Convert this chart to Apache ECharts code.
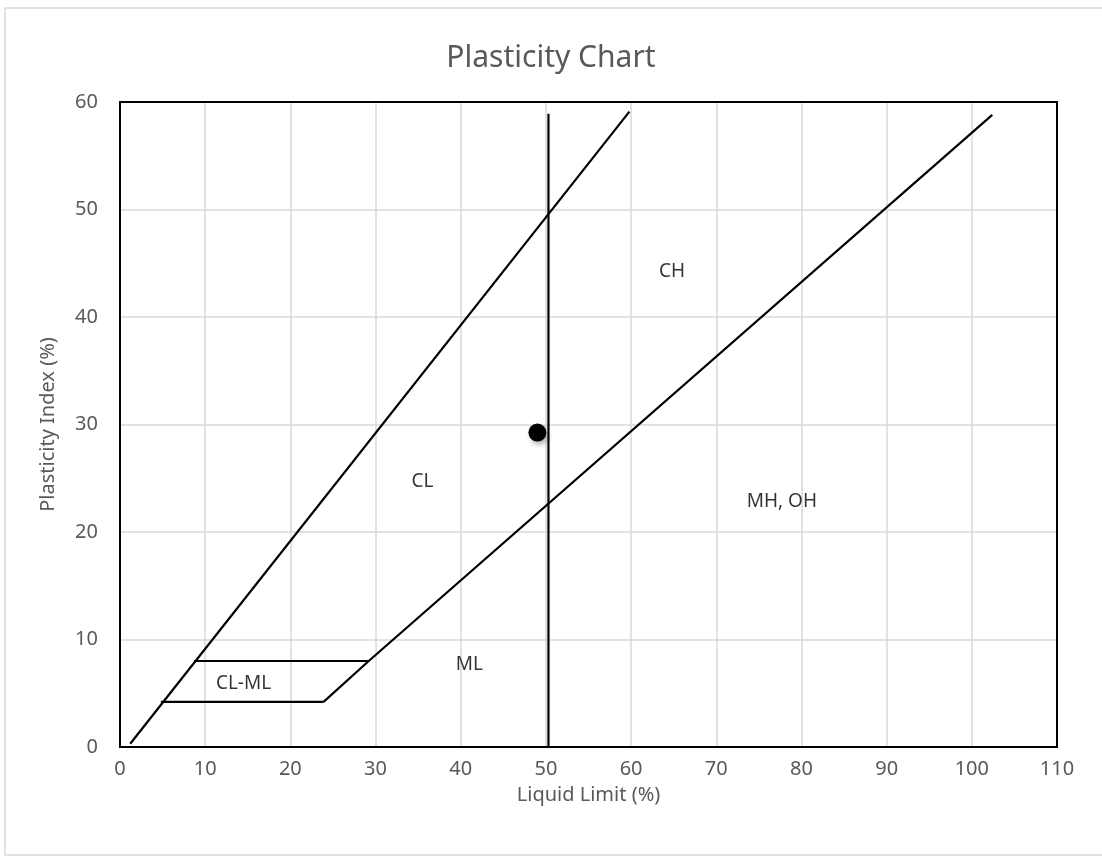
<!DOCTYPE html>
<html>
<head>
<meta charset="utf-8">
<script src="https://cdn.jsdelivr.net/npm/echarts@6/dist/echarts.min.js"></script>
<style>
  html, body { margin: 0; padding: 0; background: #ffffff; }
  #chart { width: 1102px; height: 856px; }
</style>
</head>
<body>
<div id="chart"></div>
<script>
// ---- Data ----
var xTicks = [0, 10, 20, 30, 40, 50, 60, 70, 80, 90, 100, 110];
var yTicks = [0, 10, 20, 30, 40, 50, 60];
var uLine = [[1.2, 0.3], [59.8, 59.1]];
var aLine = [[23.9, 4.2], [29.2, 8.0], [102.4, 58.8]];
var clmlUpper = [[8.7, 8.0], [29.2, 8.0]];
var clmlLower = [[4.8, 4.2], [23.9, 4.2]];
var llFifty = [[50.3, 0], [50.3, 58.9]];
var samplePoint = [[49.0, 29.25]];
var zoneNames = ['CH', 'CL', 'MH, OH', 'ML', 'CL-ML'];
var zoneX = [64.8, 35.5, 77.7, 41.0, 14.5];
var zoneY = [44.2, 24.7, 22.8, 7.7, 5.9];

var FONT = 'Noto Sans';
var GREY = '#595959';
var BORDER = { show: true, onZero: false, lineStyle: { color: '#000000', width: 2 } };

function lineSeries(name, data) {
  return {
    name: name,
    type: 'line',
    data: data,
    symbol: 'none',
    silent: true,
    lineStyle: { color: '#000000', width: 2.2 },
    z: 3
  };
}

var labelData = zoneNames.map(function (n, i) {
  return { name: n, value: [zoneX[i], zoneY[i]] };
});

var xMin = xTicks[0], xMax = xTicks[xTicks.length - 1];
var yMin = yTicks[0], yMax = yTicks[yTicks.length - 1];

var chart = echarts.init(document.getElementById('chart'), null, { renderer: 'canvas' });
chart.setOption({
  animation: false,
  backgroundColor: '#ffffff',
  textStyle: { fontFamily: FONT },
  graphic: [{
    type: 'rect',
    silent: true,
    z: -10,
    shape: { x: 5, y: 8, width: 1300, height: 847 },
    style: { fill: 'none', stroke: '#d9d9d9', lineWidth: 1.5 }
  }],
  title: {
    text: 'Plasticity Chart',
    left: 'center',
    top: 38,
    textStyle: { fontFamily: FONT, fontSize: 30, fontWeight: 'normal', color: GREY }
  },
  grid: {
    left: 120, top: 102, right: 45, bottom: 109,
    show: false,
    containLabel: false
  },
  xAxis: [{
    type: 'value',
    min: xMin, max: xMax, interval: 10,
    name: 'Liquid Limit (%)',
    nameLocation: 'middle',
    nameGap: 38,
    nameTextStyle: { fontFamily: FONT, fontSize: 20, color: GREY },
    axisLine: BORDER,
    axisTick: { show: false },
    axisLabel: { fontFamily: FONT, fontSize: 20, color: GREY, margin: 12 },
    splitLine: { show: true, lineStyle: { color: '#d9d9d9', width: 1.5 } }
  }, {
    type: 'value',
    position: 'top',
    min: xMin, max: xMax, interval: 10,
    axisLine: BORDER,
    axisTick: { show: false },
    axisLabel: { show: false },
    splitLine: { show: false }
  }],
  yAxis: [{
    type: 'value',
    min: yMin, max: yMax, interval: 10,
    name: 'Plasticity Index (%)',
    nameLocation: 'middle',
    nameGap: 62,
    nameTextStyle: { fontFamily: FONT, fontSize: 20, color: GREY },
    axisLine: BORDER,
    axisTick: { show: false },
    axisLabel: { fontFamily: FONT, fontSize: 20, color: GREY, margin: 22 },
    splitLine: { show: true, lineStyle: { color: '#d9d9d9', width: 1.5 } }
  }, {
    type: 'value',
    position: 'right',
    min: yMin, max: yMax, interval: 10,
    axisLine: BORDER,
    axisTick: { show: false },
    axisLabel: { show: false },
    splitLine: { show: false }
  }],
  series: [
    lineSeries('U-line', uLine),
    lineSeries('A-line', aLine),
    lineSeries('CL-ML upper', clmlUpper),
    lineSeries('CL-ML lower', clmlLower),
    lineSeries('LL 50', llFifty),
    {
      name: 'Sample',
      type: 'scatter',
      data: samplePoint,
      symbol: 'circle',
      symbolSize: 18,
      silent: true,
      z: 5,
      itemStyle: {
        color: '#000000',
        opacity: 1,
        shadowBlur: 5,
        shadowColor: 'rgba(0,0,0,0.3)',
        shadowOffsetX: 2,
        shadowOffsetY: 3
      }
    },
    {
      name: 'Zones',
      type: 'scatter',
      data: labelData,
      symbol: 'rect',
      symbolSize: 1,
      silent: true,
      z: 6,
      itemStyle: { color: 'rgba(0,0,0,0)' },
      label: {
        show: true,
        position: 'inside',
        formatter: '{b}',
        fontFamily: FONT,
        fontSize: 19,
        color: '#000000'
      }
    }
  ]
});
</script>
</body>
</html>
